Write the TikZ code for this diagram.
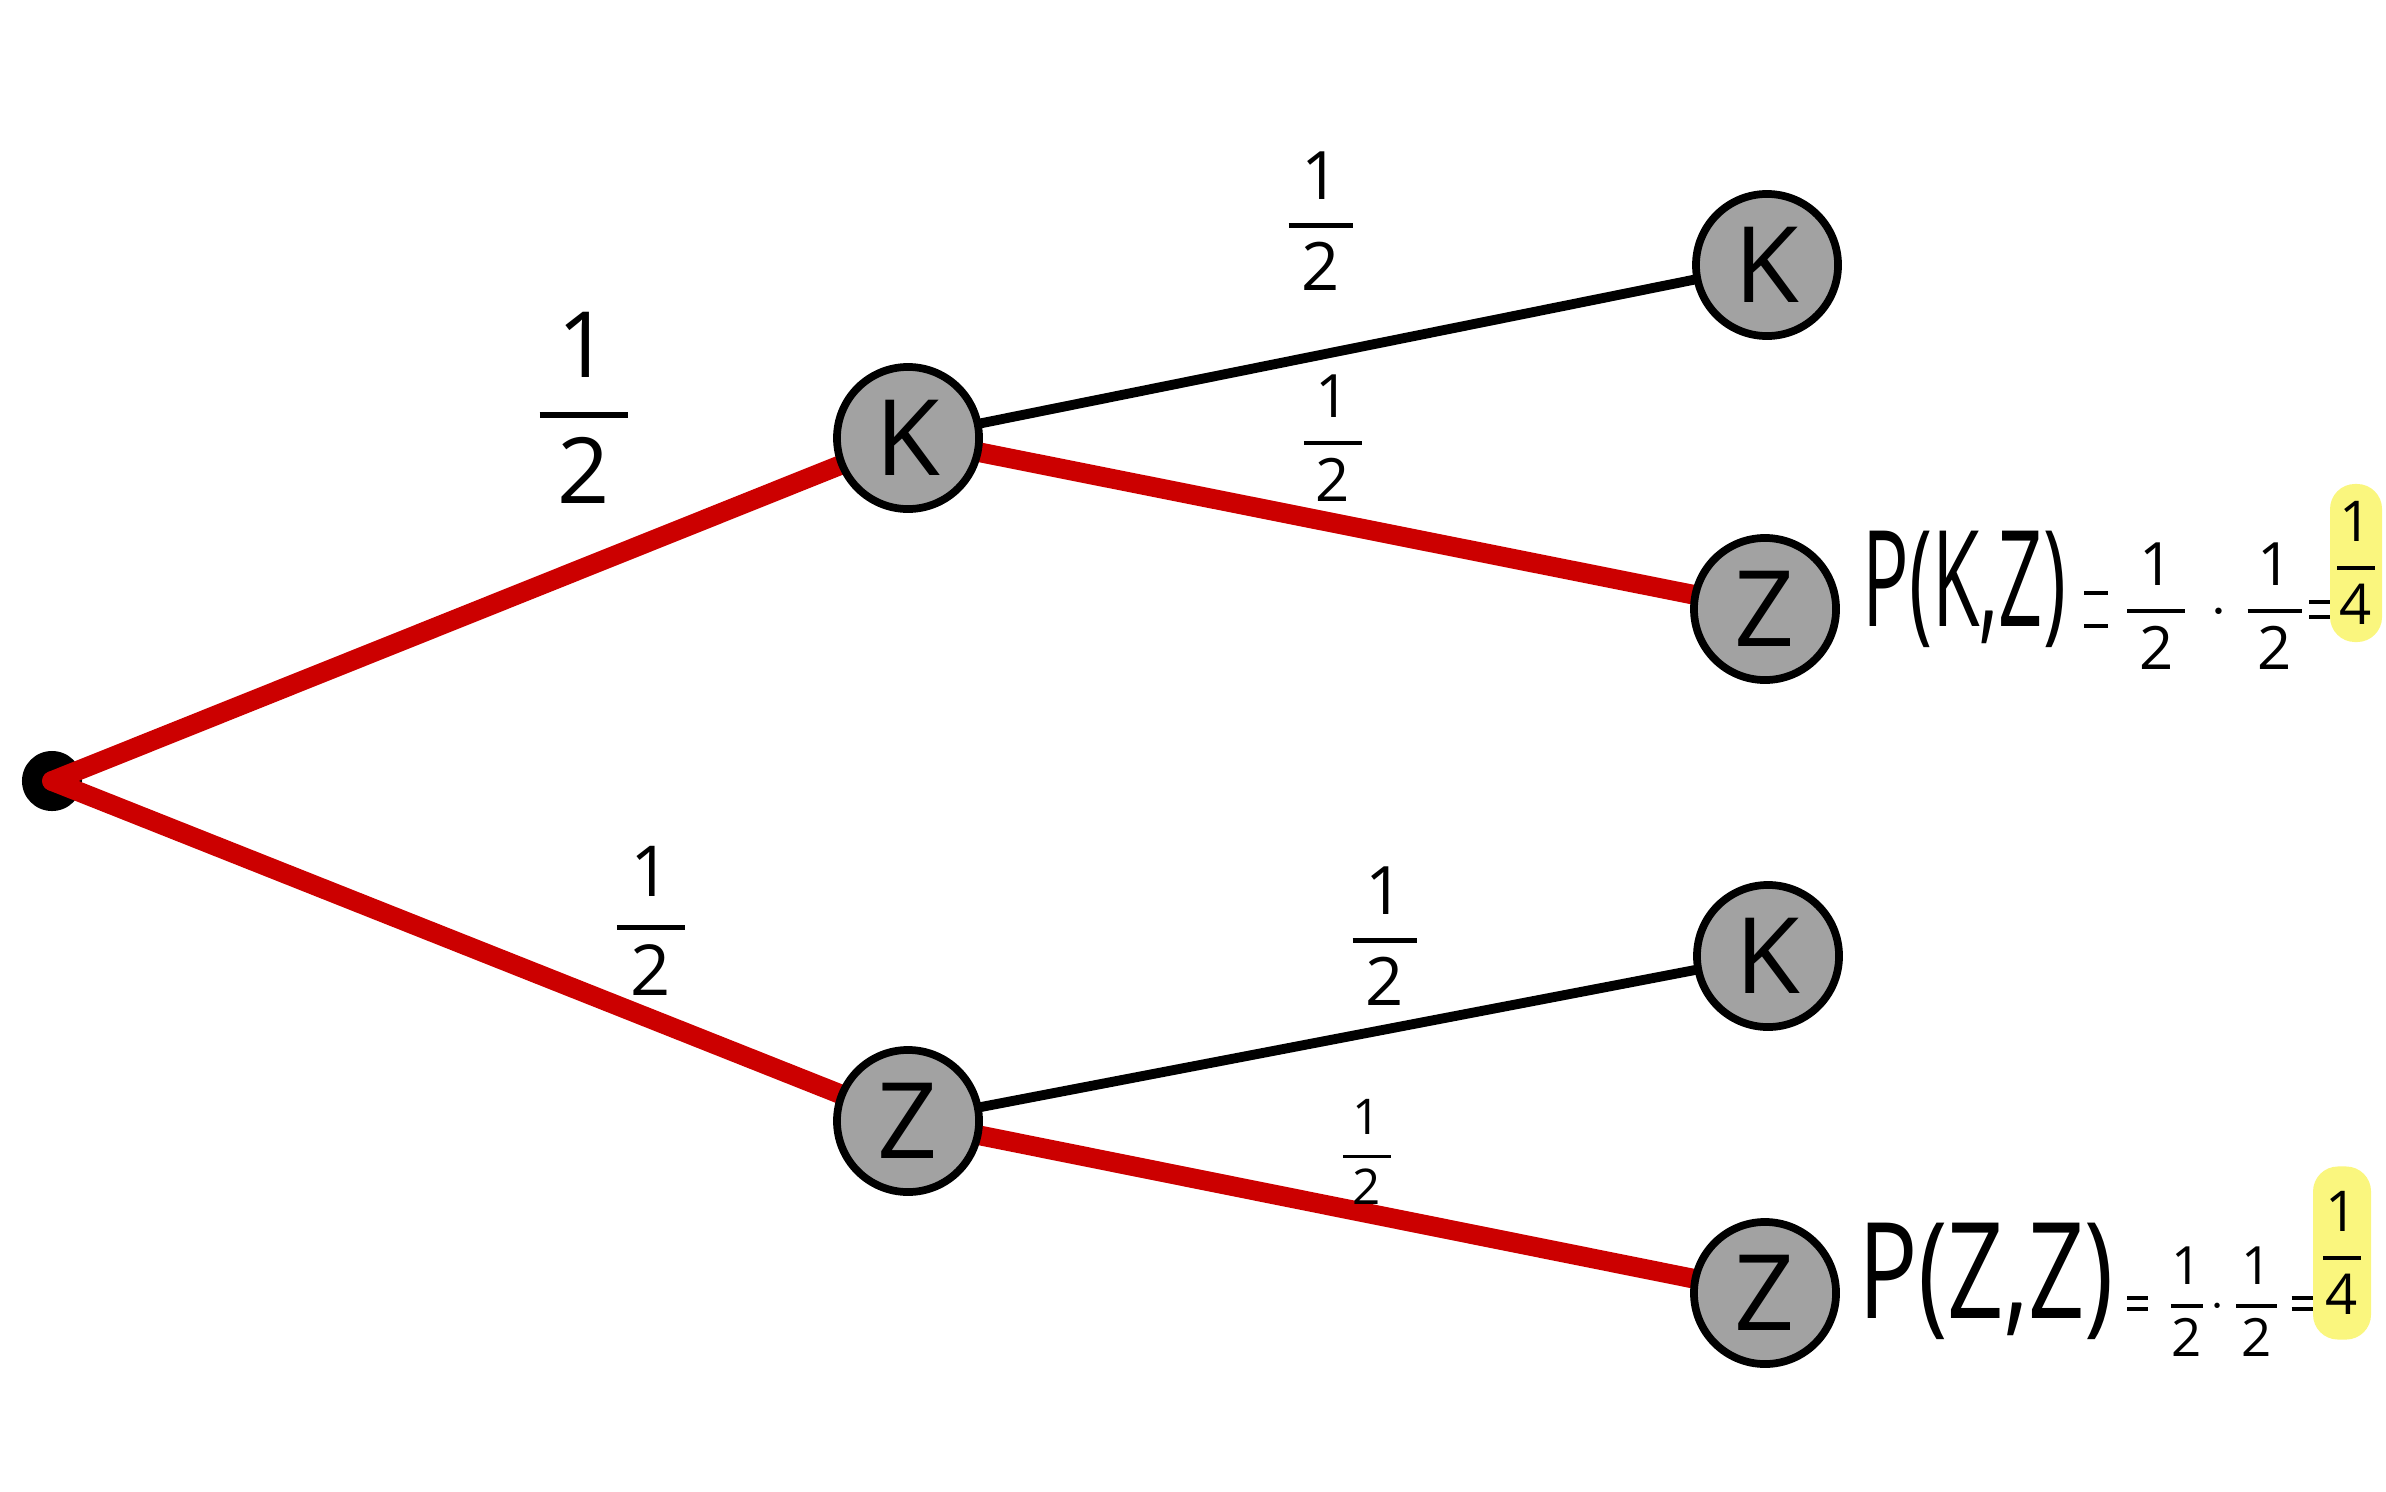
\documentclass[tikz,border=0pt]{standalone}
\usepackage{fontspec}
\setmainfont{Open Sans}
\usepackage{amsmath}
\usepackage{graphicx}
\pgfdeclarelayer{bg}
\pgfsetlayers{bg,main}
\definecolor{treered}{HTML}{CC0000}
\definecolor{nodegray}{HTML}{A2A2A2}
\definecolor{hlyellow}{HTML}{FAF67E}
% fraction with adjustable overhang of the bar
\newcommand\kfrac[3]{$\displaystyle\genfrac{}{}{0.07em}{0}{\mbox{\kern#1#2\kern#1}}{\mbox{#3}}$}
\newcommand\hfrac[2]{\kfrac{0.2em}{#1}{#2}}
\newcommand\pbig[2]{\scalebox{#1}[1]{\fontsize{38}{42}\selectfont #2}}
% hand-drawn style equals sign: #1 = distance between the two dashes
\newcommand\heq[1]{\mbox{\rlap{\raisebox{\dimexpr0.25em+#1/2\relax}{\rule{0.4em}{0.07em}}}\raisebox{\dimexpr0.25em-#1/2\relax}{\rule{0.4em}{0.07em}}}}
\begin{document}
\begin{tikzpicture}[x=0.01cm,y=-0.01cm,
  state/.style={circle,draw=black,fill=nodegray,line width=2.2pt,minimum size=1.42cm,inner sep=0pt,font=\fontsize{30}{34}\selectfont},
  rootdot/.style={circle,fill=black,minimum size=0.6cm,inner sep=0pt},
  redge/.style={draw=treered,line width=5.6pt,line cap=round},
  bedge/.style={draw=black,line width=2.8pt,line cap=round},
  prob/.style={inner sep=0pt},
  formula/.style={anchor=west,inner sep=0pt},
  hl/.style={fill=hlyellow,rounded corners=0.25cm,inner sep=0pt}
]
\useasboundingbox (0,0) rectangle (2386,1491);

% nodes
\begin{pgfonlayer}{bg}
\node[rootdot] (root) at (52,781) {};
\end{pgfonlayer}
\node[state] (k1) at (908,438) {K};
\node[state] (z1) at (908,1121) {Z};
\node[state] (kk) at (1767,265) {K};
\node[state] (kz) at (1765,609) {Z};
\node[state] (zk) at (1768,956) {K};
\node[state] (zz) at (1765,1293) {Z};

% edges
\begin{pgfonlayer}{bg}
\draw[redge] (root.center) -- (k1.center);
\draw[redge] (root.center) -- (z1.center);
\draw[bedge] (k1.center) -- (kk.center);
\draw[redge] (k1.center) -- (kz.center);
\draw[bedge] (z1.center) -- (zk.center);
\draw[redge] (z1.center) -- (zz.center);
\end{pgfonlayer}

% branch probabilities
\node[prob,font=\fontsize{26}{30}\selectfont] (p1) at (584,408) {\hfrac{1}{2}};
\node[prob,font=\fontsize{20}{24}\selectfont] (p2) at (651,921) {\hfrac{1}{2}};
\node[prob,font=\fontsize{19}{23}\selectfont] (p3) at (1321,221) {\hfrac{1}{2}};
\node[prob,font=\fontsize{17}{21}\selectfont] (p4) at (1333,438) {\hfrac{1}{2}};
\node[prob,font=\fontsize{19}{23}\selectfont] (p5) at (1385,936) {\hfrac{1}{2}};
\node[prob,font=\fontsize{14}{18}\selectfont] (p6) at (1367,1152) {\hfrac{1}{2}};

% path probabilities
\node[formula,font=\fontsize{17}{21}\selectfont] (f1) at (1862,600)
  {\pbig{0.58}{P(K,Z)}\hspace{0.3em}\heq{0.55em}\hspace{0.25em}\kfrac{0.2em}{1}{2}\hspace{0.35em}$\cdot$\hspace{0.27em}\kfrac{0.17em}{1}{2}\hspace{0.05em}\heq{0.25em}};
\node[hl,minimum width=0.52cm,minimum height=1.58cm,font=\fontsize{16}{20}\selectfont] (q1) at (2356,563) {\kfrac{0.05em}{1}{4}};
\node[formula,font=\fontsize{15}{19}\selectfont] (f2) at (1858,1290)
  {\pbig{0.74}{P(Z,Z)}\hspace{0.25em}\heq{0.2em}\hspace{0.35em}\kfrac{0.02em}{1}{2}\hspace{0.05em}$\cdot$\hspace{0.15em}\kfrac{0.1em}{1}{2}\hspace{0.2em}\heq{0.2em}};
\node[hl,minimum width=0.58cm,minimum height=1.73cm,font=\fontsize{16}{20}\selectfont] (q2) at (2342,1253) {\kfrac{0.05em}{1}{4}};
\end{tikzpicture}
\end{document}
